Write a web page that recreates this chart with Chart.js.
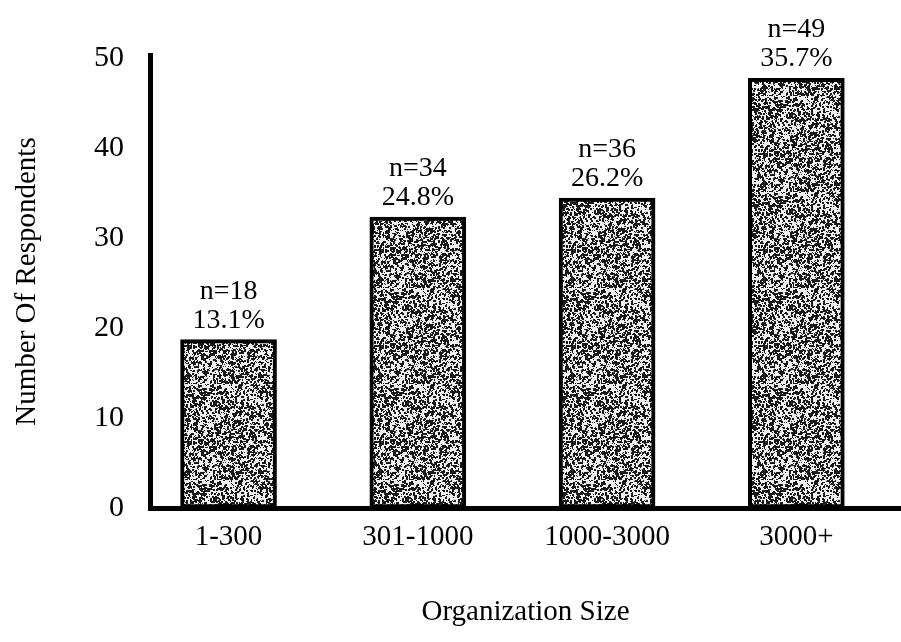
<!DOCTYPE html>
<html>
<head>
<meta charset="utf-8">
<script src="https://cdn.jsdelivr.net/npm/chart.js@4"></script>
<style>
  html, body { margin: 0; padding: 0; background: #fff; }
  #wrap { width: 901px; height: 642px; }
</style>
</head>
<body>
<div id="wrap"><canvas id="sizeChart" width="901" height="642"></canvas></div>
<script>
// data
const categories = ['1-300', '301-1000', '1000-3000', '3000+'];
const respondents = [18.7, 32.3, 34.4, 47.7];
const countLabels = ['n=18', 'n=34', 'n=36', 'n=49'];
const percentLabels = ['13.1%', '24.8%', '26.2%', '35.7%'];
const yTicks = [0, 10, 20, 30, 40, 50];

const FONT = "'Liberation Serif', 'Times New Roman', serif";

// speckled grey fill like the scanned bars
function makeSpeckle() {
    const size = 96;
    const c = document.createElement('canvas');
    c.width = size; c.height = size;
    const g = c.getContext('2d');
    g.fillStyle = '#efefef';
    g.fillRect(0, 0, size, size);
    let seed = 12345;
    function next() {
        seed = (seed * 1103515245 + 12345) & 0x7fffffff;
        return seed / 0x7fffffff;
    }
    g.fillStyle = '#1a1a1a';
    for (let y = 0; y < size; y++) {
        for (let x = 0; x < size; x++) {
            const r = next();
            if (r < 0.12) g.fillRect(x, y, 2, 2);
            else if (r < 0.26) g.fillRect(x, y, 1, 1);
        }
    }
    return g.createPattern(c, 'repeat');
}

// **labels above the bars**
const barLabels = {
    id: 'barLabels',
    afterDatasetsDraw(chart) {
        const ctx = chart.ctx;
        const meta = chart.getDatasetMeta(0);
        ctx.save();
        ctx.fillStyle = '#000';
        ctx.font = '28px ' + FONT;
        ctx.textAlign = 'center';
        ctx.textBaseline = 'alphabetic';
        meta.data.forEach((bar, i) => {
            ctx.fillText(percentLabels[i], bar.x, bar.y - 12);
            ctx.fillText(countLabels[i], bar.x, bar.y - 41);
        });
        ctx.restore();
    }
};

let ctx = document.getElementById('sizeChart').getContext('2d');
let sizeChart = new Chart(ctx, {
    type: 'bar',
    data: {
        datasets: [{
            data: respondents.map((v, i) => ({ x: i, y: v })),
            backgroundColor: makeSpeckle(),
            borderColor: '#000',
            borderWidth: 4,
            borderSkipped: false,
            barThickness: 96
        }]
    },
    options: {
        responsive: false,
        animation: false,
        events: [],
        layout: { padding: { top: 55, right: 0, left: 0, bottom: 0 } },
        plugins: {
            legend: { display: false },
            tooltip: { enabled: false }
        },
        scales: {
            x: {
                type: 'linear',
                offset: false,
                bounds: 'data',
                min: -0.415,
                max: 3.553,
                grid: { display: false, drawTicks: false, offset: false },
                border: { display: true, color: '#000', width: 5 },
                afterBuildTicks: s => { s.ticks = categories.map((c, i) => ({ value: i })); },
                afterFit: s => { s.height = 134; },
                ticks: {
                    color: '#000',
                    padding: 12,
                    maxRotation: 0,
                    font: { family: FONT, size: 29 },
                    callback: v => categories[v]
                },
                title: {
                    display: true,
                    text: 'Organization Size',
                    color: '#000',
                    font: { family: FONT, size: 29 },
                    padding: { top: 0, bottom: 12 }
                }
            },
            y: {
                min: 0,
                max: 50.3,
                grid: { display: false, drawTicks: false },
                border: { display: true, color: '#000', width: 5 },
                afterBuildTicks: s => { s.ticks = yTicks.map(v => ({ value: v })); },
                afterFit: s => { s.width = 150; },
                ticks: {
                    color: '#000',
                    padding: 26,
                    font: { family: FONT, size: 30 }
                },
                title: {
                    display: true,
                    text: 'Number Of Respondents',
                    color: '#000',
                    font: { family: FONT, size: 29 },
                    padding: { top: 10, bottom: 0 }
                }
            }
        }
    },
    plugins: [barLabels]
});
</script>
</body>
</html>
